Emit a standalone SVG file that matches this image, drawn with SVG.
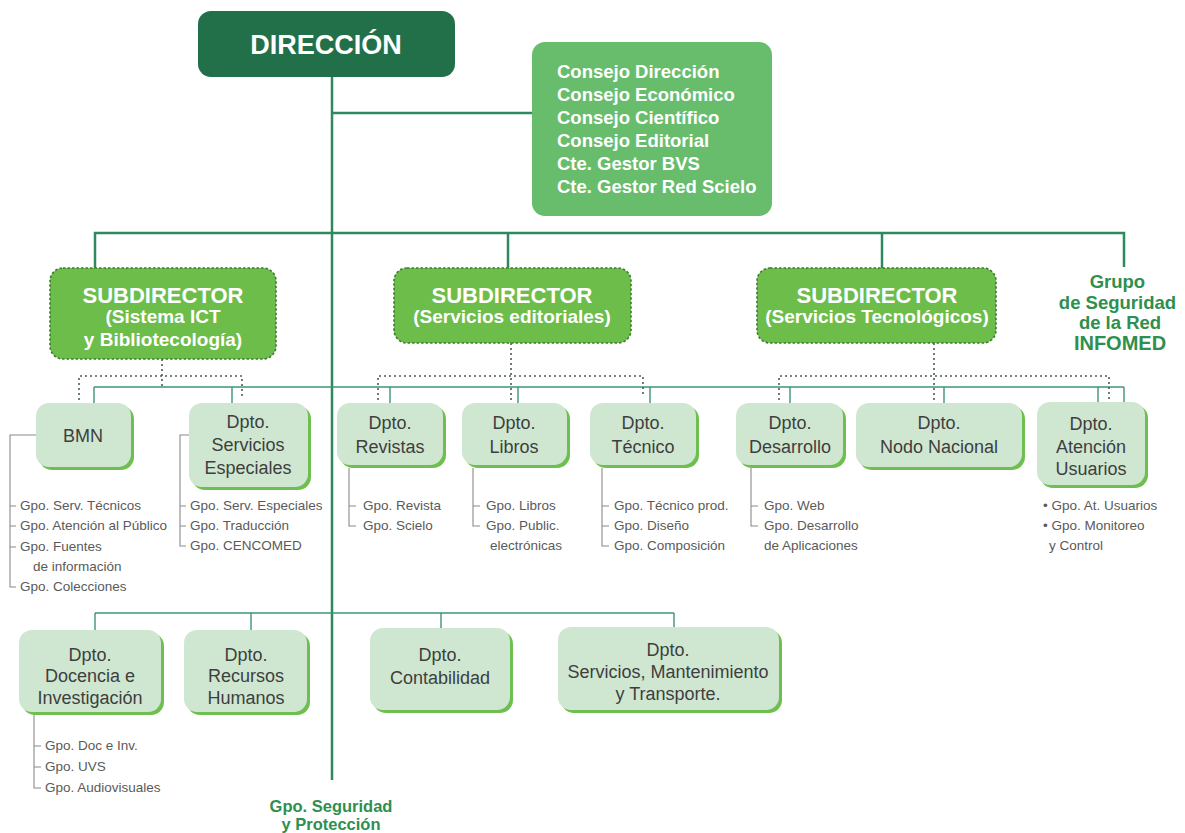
<svg xmlns="http://www.w3.org/2000/svg" width="1185" height="833" viewBox="0 0 1185 833">
<style>
.trunk{stroke:#2e8a5e;stroke-width:2.5;fill:none}
.thin{stroke:#3d9474;stroke-width:1.4;fill:none}
.dot{stroke:#4d5e4d;stroke-width:1.6;stroke-dasharray:2 3;fill:none}
.br{stroke:#8a8a8a;stroke-width:1.1;fill:none}
.dir{fill:#22704a}
.cons{fill:#68bd6c}
.sub{fill:#6dbd4a;stroke:#3f7a35;stroke-width:1.6;stroke-dasharray:2.5 2}
.dsh{fill:#6fbf50}
.dbox{fill:#cfe7d1}
.wt{font-family:"Liberation Sans",Arial,sans-serif;fill:#ffffff;font-weight:bold}
.lab{font-family:"Liberation Sans",Arial,sans-serif;fill:#3e3e3e;font-size:18px;text-anchor:middle}
.gpo{font-family:"Liberation Sans",Arial,sans-serif;fill:#5a5a5a;font-size:13.5px}
.grn{font-family:"Liberation Sans",Arial,sans-serif;fill:#2e8f4e;font-weight:bold;text-anchor:middle}
</style>
<rect width="1185" height="833" fill="#ffffff"/>

<g id="connectors">
  <line class="trunk" x1="332" y1="77" x2="332" y2="780"/>
  <line class="trunk" x1="332" y1="113" x2="532" y2="113"/>
  <polyline class="trunk" points="95,268 95,233 1124,233 1124,267"/>
  <line class="trunk" x1="508" y1="233" x2="508" y2="268"/>
  <line class="trunk" x1="882" y1="233" x2="882" y2="268"/>
  <line class="thin" x1="94" y1="387" x2="1124" y2="387"/>
  <line class="thin" x1="94" y1="387" x2="94" y2="403"/>
  <line class="thin" x1="232" y1="387" x2="232" y2="403"/>
  <line class="thin" x1="390" y1="387" x2="390" y2="403"/>
  <line class="thin" x1="518" y1="387" x2="518" y2="403"/>
  <line class="thin" x1="650" y1="387" x2="650" y2="403"/>
  <line class="thin" x1="790" y1="387" x2="790" y2="403"/>
  <line class="thin" x1="944" y1="387" x2="944" y2="403"/>
  <line class="thin" x1="1098" y1="387" x2="1098" y2="402"/>
  <line class="thin" x1="1124" y1="387" x2="1124" y2="402"/>
  <line class="dot" x1="162" y1="359" x2="162" y2="387"/>
  <polyline class="dot" points="79,400 79,376 242,376 242,397"/>
  <line class="dot" x1="511" y1="343" x2="511" y2="402"/>
  <polyline class="dot" points="378,400 378,376 643,376 643,397"/>
  <line class="dot" x1="934" y1="343" x2="934" y2="402"/>
  <polyline class="dot" points="779,400 779,376 1109,376 1109,400"/>
  <line class="thin" x1="95" y1="613" x2="674" y2="613"/>
  <line class="thin" x1="95" y1="613" x2="95" y2="630"/>
  <line class="thin" x1="251" y1="613" x2="251" y2="630"/>
  <line class="thin" x1="441" y1="613" x2="441" y2="628"/>
  <line class="thin" x1="674" y1="613" x2="674" y2="627"/>
  <path class="br" d="M36,435 H10 V587 H16 M10,506 H16 M10,526 H16 M10,547 H16"/>
  <path class="br" d="M189,435 H180 V546 H186 M180,506 H186 M180,526 H186"/>
  <path class="br" d="M349,468 V526 H356 M349,506 H356"/>
  <path class="br" d="M473,468 V526 H480 M473,506 H480"/>
  <path class="br" d="M602,468 V546 H609 M602,506 H609 M602,526 H609"/>
  <path class="br" d="M751,468 V526 H758 M751,506 H758"/>
  <path class="br" d="M34,715 V788 H41 M34,746 H41 M34,767 H41"/>
</g>

<g id="direccion">
  <rect class="dir" x="198" y="11" width="257" height="66" rx="13"/>
  <text class="wt" x="326" y="54" font-size="27" text-anchor="middle">DIRECCIÓN</text>
</g>

<g id="consejos">
  <rect class="cons" x="532" y="42" width="240" height="174" rx="13"/>
  <text class="wt" font-size="18.5">
    <tspan x="557" y="78">Consejo Dirección</tspan>
    <tspan x="557" y="101">Consejo Económico</tspan>
    <tspan x="557" y="124">Consejo Científico</tspan>
    <tspan x="557" y="147">Consejo Editorial</tspan>
    <tspan x="557" y="170">Cte. Gestor BVS</tspan>
    <tspan x="557" y="193">Cte. Gestor Red Scielo</tspan>
  </text>
</g>

<g id="sub1">
  <rect class="sub" x="50" y="268" width="226" height="91" rx="13"/>
  <text class="wt" x="163" y="303" font-size="22" text-anchor="middle">SUBDIRECTOR</text>
  <text class="wt" x="163" y="323" font-size="19" text-anchor="middle">(Sistema ICT</text>
  <text class="wt" x="163" y="346" font-size="19" text-anchor="middle">y Bibliotecología)</text>
</g>
<g id="sub2">
  <rect class="sub" x="394" y="268" width="237" height="75" rx="13"/>
  <text class="wt" x="512" y="303" font-size="22" text-anchor="middle">SUBDIRECTOR</text>
  <text class="wt" x="512" y="323" font-size="19" text-anchor="middle">(Servicios editoriales)</text>
</g>
<g id="sub3">
  <rect class="sub" x="757" y="268" width="239" height="75" rx="13"/>
  <text class="wt" x="877" y="303" font-size="22" text-anchor="middle">SUBDIRECTOR</text>
  <text class="wt" x="877" y="323" font-size="19" text-anchor="middle">(Servicios Tecnológicos)</text>
</g>
<g id="grupo-seguridad-red">
  <text class="grn" font-size="18.5">
    <tspan x="1120" y="288">Grupo</tspan>
    <tspan x="1120" y="309">de Seguridad</tspan>
    <tspan x="1120" y="329">de la Red</tspan>
  </text>
  <text class="grn" x="1120" y="350" font-size="20">INFOMED</text>
</g>

<g id="bmn">
  <rect class="dsh" x="39" y="406" width="95" height="64" rx="13"/>
  <rect class="dbox" x="36" y="403" width="95" height="64" rx="13"/>
  <text class="lab" x="83" y="442">BMN</text>
  <text class="gpo"><tspan x="20" y="510">Gpo. Serv. Técnicos</tspan><tspan x="20" y="530">Gpo. Atención al Público</tspan><tspan x="20" y="551">Gpo. Fuentes</tspan><tspan x="33" y="571">de información</tspan><tspan x="20" y="591">Gpo. Colecciones</tspan></text>
</g>
<g id="serv-especiales">
  <rect class="dsh" x="192" y="406" width="119" height="84" rx="13"/>
  <rect class="dbox" x="189" y="403" width="119" height="84" rx="13"/>
  <text class="lab"><tspan x="248" y="428">Dpto.</tspan><tspan x="248" y="451">Servicios</tspan><tspan x="248" y="474">Especiales</tspan></text>
  <text class="gpo"><tspan x="190" y="510">Gpo. Serv. Especiales</tspan><tspan x="190" y="530">Gpo. Traducción</tspan><tspan x="190" y="550">Gpo. CENCOMED</tspan></text>
</g>
<g id="revistas">
  <rect class="dsh" x="340" y="406" width="106" height="62" rx="13"/>
  <rect class="dbox" x="337" y="403" width="106" height="62" rx="13"/>
  <text class="lab"><tspan x="390" y="429">Dpto.</tspan><tspan x="390" y="453">Revistas</tspan></text>
  <text class="gpo"><tspan x="363" y="510">Gpo. Revista</tspan><tspan x="363" y="530">Gpo. Scielo</tspan></text>
</g>
<g id="libros">
  <rect class="dsh" x="465" y="406" width="105" height="62" rx="13"/>
  <rect class="dbox" x="462" y="403" width="105" height="62" rx="13"/>
  <text class="lab"><tspan x="514" y="429">Dpto.</tspan><tspan x="514" y="453">Libros</tspan></text>
  <text class="gpo"><tspan x="486" y="510">Gpo. Libros</tspan><tspan x="486" y="530">Gpo. Public.</tspan><tspan x="490" y="550">electrónicas</tspan></text>
</g>
<g id="tecnico">
  <rect class="dsh" x="593" y="406" width="106" height="62" rx="13"/>
  <rect class="dbox" x="590" y="403" width="106" height="62" rx="13"/>
  <text class="lab"><tspan x="643" y="429">Dpto.</tspan><tspan x="643" y="453">Técnico</tspan></text>
  <text class="gpo"><tspan x="614" y="510">Gpo. Técnico prod.</tspan><tspan x="614" y="530">Gpo. Diseño</tspan><tspan x="614" y="550">Gpo. Composición</tspan></text>
</g>
<g id="desarrollo">
  <rect class="dsh" x="739" y="406" width="107" height="62" rx="13"/>
  <rect class="dbox" x="736" y="403" width="107" height="62" rx="13"/>
  <text class="lab"><tspan x="790" y="429">Dpto.</tspan><tspan x="790" y="453">Desarrollo</tspan></text>
  <text class="gpo"><tspan x="764" y="510">Gpo. Web</tspan><tspan x="764" y="530">Gpo. Desarrollo</tspan><tspan x="764" y="550">de Aplicaciones</tspan></text>
</g>
<g id="nodo-nacional">
  <rect class="dsh" x="859" y="406" width="166" height="64" rx="13"/>
  <rect class="dbox" x="856" y="403" width="166" height="64" rx="13"/>
  <text class="lab"><tspan x="939" y="429">Dpto.</tspan><tspan x="939" y="453">Nodo Nacional</tspan></text>
</g>
<g id="atencion-usuarios">
  <rect class="dsh" x="1040" y="405" width="108" height="83" rx="13"/>
  <rect class="dbox" x="1037" y="402" width="108" height="83" rx="13"/>
  <text class="lab"><tspan x="1091" y="430">Dpto.</tspan><tspan x="1091" y="453">Atención</tspan><tspan x="1091" y="475">Usuarios</tspan></text>
  <text class="gpo"><tspan x="1043" y="510">• Gpo. At. Usuarios</tspan><tspan x="1043" y="530">• Gpo. Monitoreo</tspan><tspan x="1049" y="550">y Control</tspan></text>
</g>

<g id="docencia">
  <rect class="dsh" x="22" y="633" width="142" height="82" rx="13"/>
  <rect class="dbox" x="19" y="630" width="142" height="82" rx="13"/>
  <text class="lab"><tspan x="90" y="661">Dpto.</tspan><tspan x="90" y="682">Docencia e</tspan><tspan x="90" y="704">Investigación</tspan></text>
  <text class="gpo"><tspan x="45" y="750">Gpo. Doc e Inv.</tspan><tspan x="45" y="771">Gpo. UVS</tspan><tspan x="45" y="792">Gpo. Audiovisuales</tspan></text>
</g>
<g id="recursos-humanos">
  <rect class="dsh" x="187" y="633" width="123" height="82" rx="13"/>
  <rect class="dbox" x="184" y="630" width="123" height="82" rx="13"/>
  <text class="lab"><tspan x="246" y="661">Dpto.</tspan><tspan x="246" y="682">Recursos</tspan><tspan x="246" y="704">Humanos</tspan></text>
</g>
<g id="contabilidad">
  <rect class="dsh" x="373" y="631" width="140" height="82" rx="13"/>
  <rect class="dbox" x="370" y="628" width="140" height="82" rx="13"/>
  <text class="lab"><tspan x="440" y="661">Dpto.</tspan><tspan x="440" y="684">Contabilidad</tspan></text>
</g>
<g id="servicios-mantenimiento">
  <rect class="dsh" x="561" y="630" width="221" height="83" rx="13"/>
  <rect class="dbox" x="558" y="627" width="221" height="83" rx="13"/>
  <text class="lab"><tspan x="668" y="656">Dpto.</tspan><tspan x="668" y="678">Servicios, Mantenimiento</tspan><tspan x="668" y="700">y Transporte.</tspan></text>
</g>
<g id="gpo-seguridad-proteccion">
  <text class="grn" font-size="16.5"><tspan x="331" y="812">Gpo. Seguridad</tspan><tspan x="331" y="830">y Protección</tspan></text>
</g>
</svg>
